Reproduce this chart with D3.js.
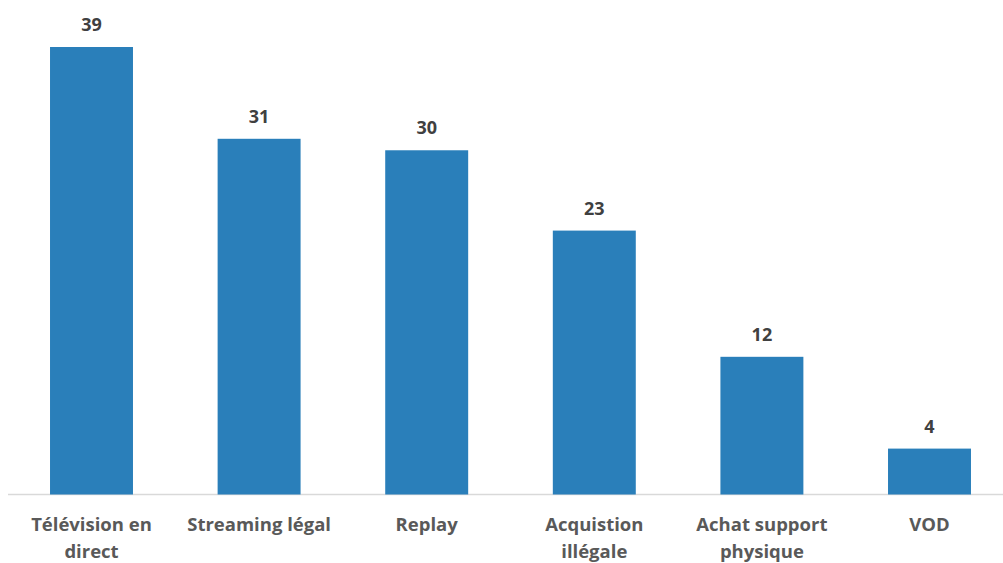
<!DOCTYPE html>
<html><head><meta charset="utf-8">
<script src="https://cdn.jsdelivr.net/npm/d3@7"></script>
<style>body{margin:0;background:#fff;} svg{display:block;}</style>
</head><body>
<svg id="c" width="1003" height="563"></svg>
<script>
const categories = ["Télévision en direct","Streaming légal","Replay","Acquistion illégale","Achat support physique","VOD"];
const labelLines = [["Télévision en","direct"],["Streaming légal"],["Replay"],["Acquistion","illégale"],["Achat support","physique"],["VOD"]];
const values = [39,31,30,23,12,4];

const svg = d3.select("#c");
const baseY = 494.5;
const x = d3.scaleBand().domain(categories).range([7.7, 1013.3]).paddingInner(0.505).paddingOuter(0.2525);
const y = d3.scaleLinear().domain([0, 39]).range([baseY, 47]);

svg.append("line").attr("x1", 8).attr("x2", 1003).attr("y1", baseY).attr("y2", baseY)
  .attr("stroke", "#d9d9d9").attr("stroke-width", 1.5);

svg.selectAll("rect.bar").data(values).join("rect").attr("class","bar")
  .attr("x", (d,i)=>x(categories[i])).attr("width", x.bandwidth())
  .attr("y", d=>y(d)).attr("height", d=>baseY - y(d)).attr("fill", "#2a7fba");

const font = "'Open Sans', sans-serif";
svg.selectAll("text.val").data(values).join("text").attr("class","val")
  .attr("x", (d,i)=>x(categories[i]) + x.bandwidth()/2).attr("y", d=>y(d) - 16)
  .attr("text-anchor","middle").attr("font-family", font).attr("font-weight","bold")
  .attr("font-size", 18).attr("fill", "#404040").text(d=>d);

const g = svg.selectAll("text.cat").data(categories).join("text").attr("class","cat")
  .attr("text-anchor","middle").attr("font-family", font).attr("font-weight","bold")
  .attr("font-size", 18.5).attr("fill", "#595959");
g.each(function(d,i){
  const t = d3.select(this);
  labelLines[i].forEach((l,j)=>{
    t.append("tspan").attr("x", x(d) + x.bandwidth()/2).attr("y", 531 + j*27).text(l);
  });
});
</script>
</body></html>
